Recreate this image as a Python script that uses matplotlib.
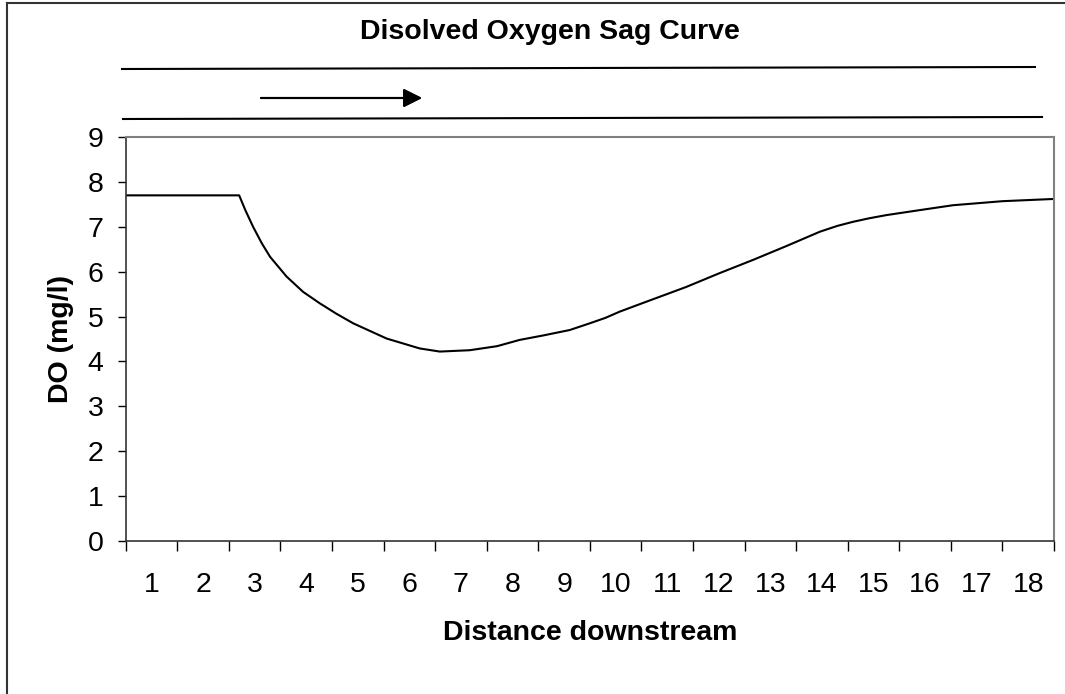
import matplotlib.pyplot as plt
from matplotlib.lines import Line2D

plt.rcParams['font.family'] = ['Liberation Sans', 'DejaVu Sans']

# distance (category units, 0 = left edge of axis) and DO readings
dist = [0.0, 2.2, 2.32, 2.47, 2.64, 2.8, 3.12, 3.44, 3.77, 4.09, 4.41, 5.06,
        5.7, 6.09, 6.67, 7.2, 7.64, 8.1, 8.61, 9.0, 9.3, 9.58, 10.0, 10.87,
        11.5, 12.16, 12.81, 13.46, 13.8, 14.1, 14.42, 14.75, 15.39, 16.04,
        17.0, 18.0]
do_mgl = [7.7, 7.7, 7.37, 7.0, 6.63, 6.33, 5.89, 5.55, 5.29, 5.06, 4.85, 4.51,
          4.29, 4.22, 4.25, 4.34, 4.48, 4.58, 4.70, 4.85, 4.97, 5.11, 5.29,
          5.66, 5.96, 6.26, 6.57, 6.89, 7.02, 7.11, 7.19, 7.26, 7.37, 7.48,
          7.57, 7.62]
categories = [str(i) for i in range(1, 19)]
yticks = list(range(0, 10))

W, H = 1065, 694
fig = plt.figure(figsize=(W / 100, H / 100), dpi=100)
ax = fig.add_axes([125.7 / W, 1 - 541 / H, (1054 - 125.7) / W, (541 - 137) / H])

ax.plot(dist, do_mgl, color='black', lw=1.5, solid_joinstyle='round')
ax.set_xlim(0, 18)
ax.set_ylim(0, 9)

# major ticks between categories, labels at centres
ax.set_xticks(range(0, 19))
ax.set_xticklabels([])
ax.set_xticks([i + 0.5 for i in range(18)], minor=True)
ax.set_xticklabels(categories, minor=True, fontsize=20.5)
ax.tick_params(axis='x', which='major', direction='out', length=7, width=1)
ax.tick_params(axis='x', which='minor', length=0, pad=22)
ax.set_yticks(yticks)
ax.set_yticklabels([str(v) for v in yticks], fontsize=20.5)
ax.tick_params(axis='y', direction='out', length=6, width=1, pad=10)

for s in ['top', 'right']:
    ax.spines[s].set_color('#808080')
    ax.spines[s].set_linewidth(1.5)
for s in ['left', 'bottom']:
    ax.spines[s].set_color('#333333')
    ax.spines[s].set_linewidth(1.2)

ax.set_xlabel('Distance downstream', fontsize=20.5, fontweight='bold', labelpad=16)
ax.set_ylabel('DO (mg/l)', fontsize=20.5, fontweight='bold', labelpad=10)

fig.text(550 / W, 1 - 32 / H, 'Disolved Oxygen Sag Curve', fontsize=20.5,
         fontweight='bold', ha='center', va='center')

# river banks and flow arrow
def px(x, y):
    return x / W, 1 - y / H

for (x0, y0), (x1, y1) in [((122, 69), (1035, 67)), ((123, 119), (1042, 117))]:
    a, b = px(x0, y0)
    c, d = px(x1, y1)
    fig.add_artist(Line2D([a, c], [b, d], color='black', lw=1.5))

fig.add_artist(plt.annotate('', xy=px(422, 98), xytext=px(261, 98),
                            xycoords='figure fraction', textcoords='figure fraction',
                            arrowprops=dict(arrowstyle='-|>', color='black', lw=1.5,
                                            mutation_scale=28, shrinkA=0, shrinkB=0)))

# outer frame (top and left edges visible)
fig.add_artist(Line2D([7 / W, 7 / W], [0, 1 - 3 / H], color='#333333', lw=1.5))
fig.add_artist(Line2D([7 / W, 1], [1 - 3 / H, 1 - 3 / H], color='#333333', lw=1.5))

fig.savefig('out.png', dpi=100)
